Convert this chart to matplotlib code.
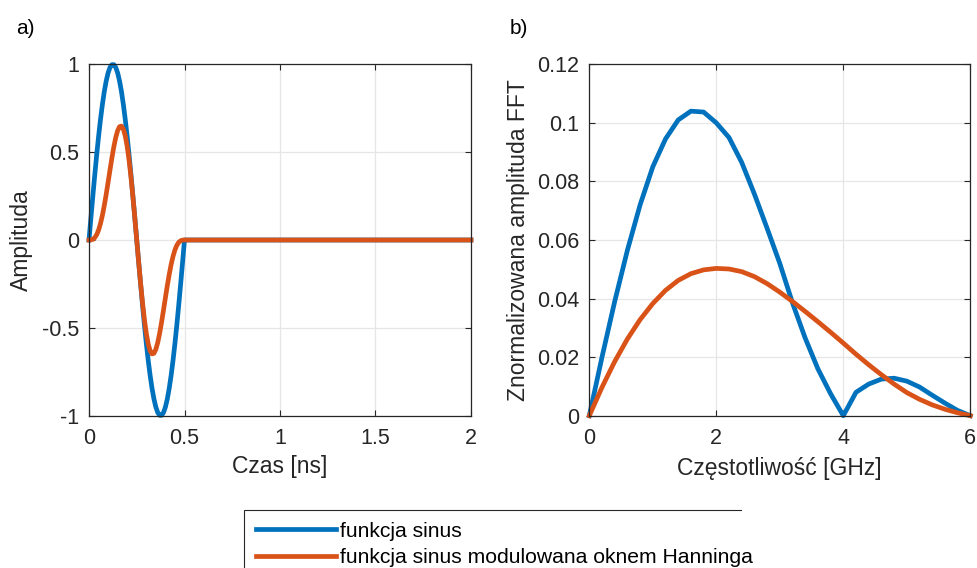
import matplotlib
matplotlib.use("Agg")
import matplotlib.pyplot as plt
from matplotlib.lines import Line2D

plt.rcParams['font.family'] = ['Liberation Sans', 'DejaVu Sans']
plt.rcParams['axes.unicode_minus'] = False

# ---- time-domain pulse (a) ----
t_ns = [0.00, 0.01, 0.02, 0.03, 0.04, 0.05, 0.06, 0.07, 0.08, 0.09, 0.10,
        0.11, 0.12, 0.13, 0.14, 0.15, 0.16, 0.17, 0.18, 0.19, 0.20, 0.21,
        0.22, 0.23, 0.24, 0.25, 0.26, 0.27, 0.28, 0.29, 0.30, 0.31, 0.32,
        0.33, 0.34, 0.35, 0.36, 0.37, 0.38, 0.39, 0.40, 0.41, 0.42, 0.43,
        0.44, 0.45, 0.46, 0.47, 0.48, 0.49, 0.50, 2.00]
sine_amp = [0.0000, 0.1253, 0.2487, 0.3681, 0.4818, 0.5878, 0.6845, 0.7705,
            0.8443, 0.9048, 0.9511, 0.9823, 0.9980, 0.9980, 0.9823, 0.9511,
            0.9048, 0.8443, 0.7705, 0.6845, 0.5878, 0.4818, 0.3681, 0.2487,
            0.1253, 0.0000, -0.1253, -0.2487, -0.3681, -0.4818, -0.5878,
            -0.6845, -0.7705, -0.8443, -0.9048, -0.9511, -0.9823, -0.9980,
            -0.9980, -0.9823, -0.9511, -0.9048, -0.8443, -0.7705, -0.6845,
            -0.5878, -0.4818, -0.3681, -0.2487, -0.1253, 0.0000, 0.0000]
hann_amp = [0.0000, 0.0005, 0.0039, 0.0129, 0.0298, 0.0561, 0.0927, 0.1397,
            0.1960, 0.2598, 0.3286, 0.3991, 0.4677, 0.5303, 0.5832, 0.6225,
            0.6450, 0.6483, 0.6308, 0.5918, 0.5317, 0.4520, 0.3552, 0.2448,
            0.1248, 0.0000, -0.1248, -0.2448, -0.3552, -0.4520, -0.5317,
            -0.5918, -0.6308, -0.6483, -0.6450, -0.6225, -0.5832, -0.5303,
            -0.4677, -0.3991, -0.3286, -0.2598, -0.1960, -0.1397, -0.0927,
            -0.0561, -0.0298, -0.0129, -0.0039, -0.0005, 0.0000, 0.0000]

# ---- spectrum (b) ----
freq_ghz = [0.0, 0.2, 0.4, 0.6, 0.8, 1.0, 1.2, 1.4, 1.6, 1.8, 2.0, 2.2, 2.4,
            2.6, 2.8, 3.0, 3.2, 3.4, 3.6, 3.8, 4.0, 4.2, 4.4, 4.6, 4.8, 5.0,
            5.2, 5.4, 5.6, 5.8, 6.0]
fft_sine = [0.0, 0.0200, 0.0390, 0.0565, 0.0720, 0.0850, 0.0945, 0.1010,
            0.1040, 0.1037, 0.1000, 0.0950, 0.0865, 0.0757, 0.0640, 0.0520,
            0.0385, 0.0265, 0.0160, 0.0075, 0.0, 0.0080, 0.0108, 0.0125,
            0.0128, 0.0118, 0.0098, 0.0070, 0.0043, 0.0018, 0.0]
fft_hann = [0.0, 0.0097, 0.0185, 0.0262, 0.0328, 0.0383, 0.0428, 0.0462,
            0.0485, 0.0498, 0.0503, 0.0501, 0.0492, 0.0475, 0.0451, 0.0422,
            0.0390, 0.0356, 0.0321, 0.0285, 0.0248, 0.0210, 0.0174, 0.0140,
            0.0108, 0.0079, 0.0056, 0.0037, 0.0022, 0.0010, 0.0]

a_xticks = [0, 0.5, 1, 1.5, 2]
a_xlabels = ['0', '0.5', '1', '1.5', '2']
a_yticks = [-1, -0.5, 0, 0.5, 1]
a_ylabels = ['-1', '-0.5', '0', '0.5', '1']
b_xticks = [0, 2, 4, 6]
b_xlabels = ['0', '2', '4', '6']
b_yticks = [0, 0.02, 0.04, 0.06, 0.08, 0.10, 0.12]
b_ylabels = ['0', '0.02', '0.04', '0.06', '0.08', '0.1', '0.12']

labels = ['funkcja sinus', 'funkcja sinus modulowana oknem Hanninga']

BLUE = '#0072BD'
ORANGE = '#D95319'
AXC = '#262626'
W, H = 978, 568

fig = plt.figure(figsize=(W / 100, H / 100), dpi=100)
ax1 = fig.add_axes([89 / W, 1 - 415.7 / H, 382 / W, 351.4 / H])
ax2 = fig.add_axes([589.3 / W, 1 - 415.7 / H, 381 / W, 351.4 / H])


def style(ax, xt, xl, yt, yl):
    ax.set_xticks(xt)
    ax.set_xticklabels(xl)
    ax.set_yticks(yt)
    ax.set_yticklabels(yl)
    ax.grid(True, color='#e6e6e6', linewidth=0.9)
    ax.set_axisbelow(True)
    for s in ax.spines.values():
        s.set_color(AXC)
        s.set_linewidth(0.9)
    ax.tick_params(direction='in', length=4.5, width=0.8, color=AXC,
                   labelcolor=AXC, labelsize=15.5, top=True, right=True)
    ax.tick_params(axis='x', pad=9)
    ax.tick_params(axis='y', pad=7)


lw = 3.4
l1, = ax1.plot(t_ns, sine_amp, color=BLUE, lw=lw, clip_on=False,
               solid_joinstyle='round')
l2, = ax1.plot(t_ns, hann_amp, color=ORANGE, lw=lw, clip_on=False,
               solid_joinstyle='round')
ax1.set_xlim(0, 2)
ax1.set_ylim(-1, 1)
style(ax1, a_xticks, a_xlabels, a_yticks, a_ylabels)
ax1.set_xlabel('Czas [ns]', fontsize=16.5, color=AXC, va='center')
ax1.set_ylabel('Amplituda', fontsize=16.5, color=AXC, va='center')
ax1.xaxis.set_label_coords(0.5, (415.7 - 467) / 351.4)
ax1.yaxis.set_label_coords((21 - 89) / 382, 0.5)

ax2.plot(freq_ghz, fft_sine, color=BLUE, lw=lw, clip_on=False,
         solid_joinstyle='round')
ax2.plot(freq_ghz, fft_hann, color=ORANGE, lw=lw, clip_on=False,
         solid_joinstyle='round')
ax2.set_xlim(0, 6)
ax2.set_ylim(0, 0.12)
style(ax2, b_xticks, b_xlabels, b_yticks, b_ylabels)
ax2.set_xlabel('Częstotliwość [GHz]', fontsize=16.5, color=AXC, va='center')
ax2.set_ylabel('Znormalizowana amplituda FFT', fontsize=16.5, color=AXC,
               va='center')
ax2.xaxis.set_label_coords(0.5, (415.7 - 468) / 351.4)
ax2.yaxis.set_label_coords((518 - 589.3) / 381, 0.5)

fig.text(16 / W, 1 - 29 / H, 'a)', fontsize=15, va='center', ha='left')
fig.text(510 / W, 1 - 29 / H, 'b)', fontsize=15, va='center', ha='left')

# legend frame: top and left edges only, the box runs off the bottom
box_top = 1 - 510 / H
frame = Line2D([244 / W, 244 / W, 741 / W], [-0.05, box_top, box_top],
               transform=fig.transFigure, color=AXC, linewidth=0.8,
               solid_joinstyle='miter')
fig.add_artist(frame)

leg = fig.legend([l1, l2], labels, loc='upper left',
                 bbox_to_anchor=(244 / W, box_top), borderaxespad=0,
                 fontsize=15.2, frameon=False, handlelength=3.8,
                 handletextpad=0.22, borderpad=0.55, labelspacing=0.36)

fig.savefig('out.png', dpi=100)
